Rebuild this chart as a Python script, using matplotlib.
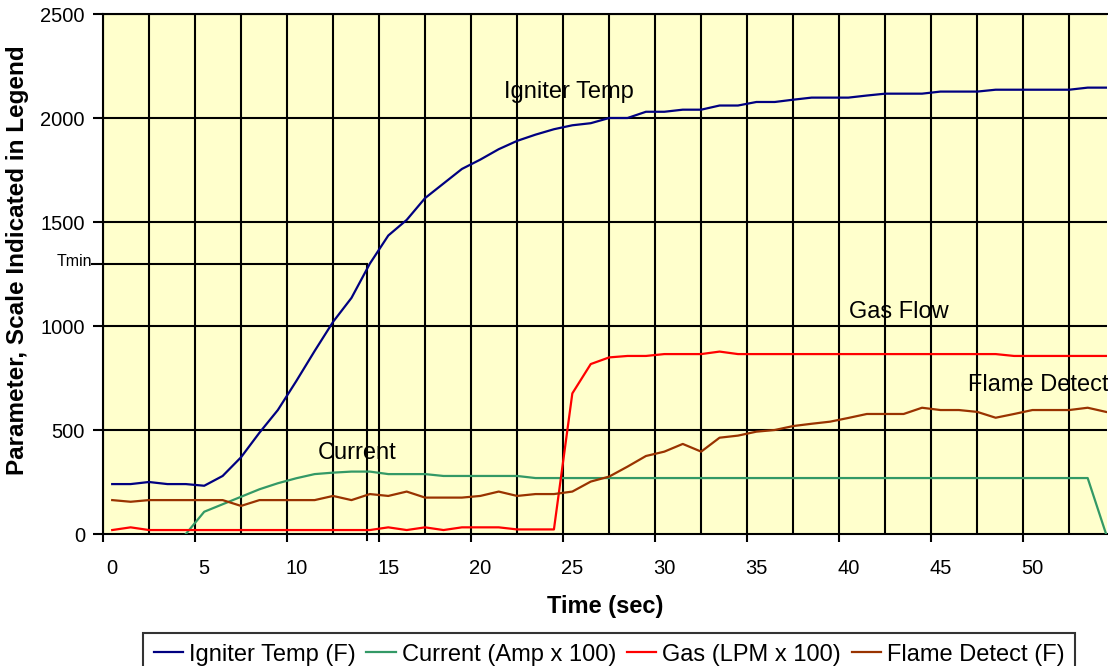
import numpy as np
import matplotlib
matplotlib.use('Agg')
import matplotlib.pyplot as plt

plt.rcParams['font.family'] = ['Liberation Sans', 'DejaVu Sans']

# time in seconds, one sample per second
time = list(range(55))

igniter = [240, 240, 250, 240, 240, 232, 279, 369, 487, 596,
           735, 880, 1020, 1135, 1300, 1435, 1510, 1615, 1685, 1755,
           1800, 1850, 1890, 1920, 1946, 1965, 1975, 2000, 2000, 2030,
           2030, 2040, 2040, 2060, 2060, 2077, 2077, 2088, 2098, 2098,
           2098, 2108, 2117, 2117, 2117, 2127, 2127, 2127, 2136, 2136,
           2136, 2136, 2136, 2146, 2146]

current = [np.nan, np.nan, np.nan, np.nan, 0, 107, 143, 179, 215, 244,
           268, 288, 295, 300, 300, 288, 288, 288, 279, 279,
           279, 279, 279] + [269] * 31 + [0]

gas = [19, 32] + [19] * 13 + [32, 19, 32, 19, 32, 32, 32, 22, 22, 22,
       676, 817, 849, 856, 856, 865, 865, 865, 877] + [865] * 15 + [856] * 6

flame = [163, 155, 163, 163, 163, 163, 163, 135, 163, 163,
         163, 163, 183, 163, 192, 183, 204, 175, 175, 175,
         183, 204, 183, 192, 192, 204, 252, 276, 324, 375,
         396, 433, 396, 463, 473, 492, 500, 519, 530, 540,
         558, 577, 577, 577, 607, 596, 596, 587, 559, 577,
         596, 596, 596, 607, 587]

labels = ['Igniter Temp (F)', 'Current (Amp x 100)', 'Gas (LPM x 100)', 'Flame Detect (F)']
colors = ['#000080', '#339966', '#FF0000', '#993300']

t_min_time = 13.85
t_min_temp = 1300

fig = plt.figure(figsize=(11.08, 6.66), dpi=100)
ax = fig.add_axes([103 / 1108, 1 - 534 / 666, 1004 / 1108, 520 / 666])
ax.set_facecolor('#FFFFCC')

x0, x1 = -0.5, 54.05
ax.set_xlim(x0, x1)
ax.set_ylim(0, 2500)

# grid lines
for gx in np.arange(x0, x1, 2.5):
    ax.axvline(gx, color='black', lw=1.5, zorder=1)
for gy in range(500, 2501, 500):
    ax.axhline(gy, color='black', lw=1.5, zorder=1)

series = [igniter, current, gas, flame]
for vals, lab, col in zip(series, labels, colors):
    ax.plot(time, vals, color=col, lw=1.6, label=lab, zorder=3)

# Tmin marker
ax.plot([-1.1, t_min_time], [t_min_temp, t_min_temp], color='black', lw=1.5, clip_on=False, zorder=2)
ax.plot([t_min_time, t_min_time], [t_min_temp, -30], color='black', lw=1.5, clip_on=False, zorder=2)
ax.text(-1.1, t_min_temp + 10, 'Tmin', ha='right', va='center', fontsize=11.5)

# curve labels
ax.text(24.8, 2125, 'Igniter Temp', fontsize=17, ha='center', va='center')
ax.text(13.3, 390, 'Current', fontsize=17, ha='center', va='center')
ax.text(42.75, 1065, 'Gas Flow', fontsize=17, ha='center', va='center')
ax.text(50.3, 715, 'Flame Detect', fontsize=17, ha='center', va='center')

# axes styling
for s in ['left', 'bottom', 'top']:
    ax.spines[s].set_linewidth(1.5)
ax.spines['right'].set_visible(False)

ax.set_xticks(range(0, 51, 5))
ax.set_xticks(np.arange(x0, x1, 5), minor=True)
ax.tick_params(axis='x', which='major', length=0, pad=18, labelsize=14.5)
ax.tick_params(axis='x', which='minor', length=6, width=1.5, direction='out')
ax.set_yticks(range(0, 2501, 500))
ax.tick_params(axis='y', length=7, width=1.5, direction='out', labelsize=14.5, pad=6)

ax.set_xlabel('Time (sec)', fontsize=17, fontweight='bold', labelpad=12)
ax.set_ylabel('Parameter, Scale Indicated in Legend', fontsize=17.5, fontweight='bold')
ax.yaxis.set_label_coords(-0.074, 0.527)

leg = fig.legend(loc='upper left', bbox_to_anchor=(143 / 1108, 1 - 633 / 666), ncol=4,
                 fontsize=17, frameon=True, fancybox=False, handlelength=1.25,
                 columnspacing=0.45, handletextpad=0.25, borderpad=0.45, borderaxespad=0)
leg.get_frame().set_edgecolor('black')
leg.get_frame().set_linewidth(1.5)

fig.savefig('out.png', dpi=100)
